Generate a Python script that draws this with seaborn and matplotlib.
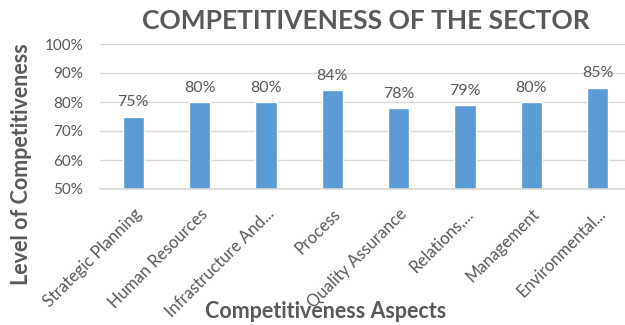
import matplotlib
matplotlib.use("Agg")
import matplotlib.pyplot as plt
import seaborn as sns
import pandas as pd
from matplotlib.ticker import FuncFormatter

categories = ["Strategic Planning", "Human Resources", "Infrastructure And...", "Process",
              "Quality Assurance", "Relations,...", "Management", "Environmental..."]
values = [75, 80, 80, 84, 78, 79, 80, 85]
yticks = [50, 60, 70, 80, 90, 100]

sns.set_theme(style="white")
plt.rcParams['font.family'] = ['Lato', 'DejaVu Sans']
grey = "#595959"

df = pd.DataFrame({"cat": categories, "val": values})
W, H = 625, 325
fig = plt.figure(figsize=(6.25, 3.25), dpi=100)
ax = fig.add_axes([100 / W, 1 - 189 / H, 531 / W, 145 / H])
sns.barplot(data=df, x="cat", y="val", color="#5B9BD5", width=0.32, ax=ax, saturation=1)
ax.set_xlim(-0.5, len(categories) - 0.5)
ax.set_ylim(50, 100)
ax.set_yticks(yticks)
ax.yaxis.set_major_formatter(FuncFormatter(lambda v, p: f"{int(v)}%"))
ax.grid(axis="y", color="#D9D9D9", linewidth=1)
ax.set_axisbelow(True)
for s in ["top", "right", "left"]:
    ax.spines[s].set_visible(False)
ax.spines["bottom"].set_color("#D9D9D9")
ax.tick_params(axis="y", colors=grey, labelsize=11, length=0, pad=12)
ax.tick_params(axis="x", colors=grey, labelsize=12, length=0, pad=12)
plt.setp(ax.get_xticklabels(), rotation=45, ha="right", rotation_mode="anchor")
for i, v in enumerate(values):
    ax.text(i, v + 2.5, f"{v}%", ha="center", va="bottom", color=grey, fontsize=11.5)
ax.set_xlabel("")
ax.set_ylabel("")
fig.text(326 / W, 1 - 311 / H, "Competitiveness Aspects", ha="center", va="center",
         color=grey, fontsize=15.5, fontweight="bold")
fig.text(22 / W, 1 - 164 / H, "Level of Competitiveness", ha="center", va="center",
         rotation=90, color=grey, fontsize=15.5, fontweight="bold")
fig.text(366 / W, 1 - 21 / H, "COMPETITIVENESS OF THE SECTOR", ha="center", va="center",
         color=grey, fontsize=19, fontweight="bold")
fig.savefig("out.png", dpi=100)
